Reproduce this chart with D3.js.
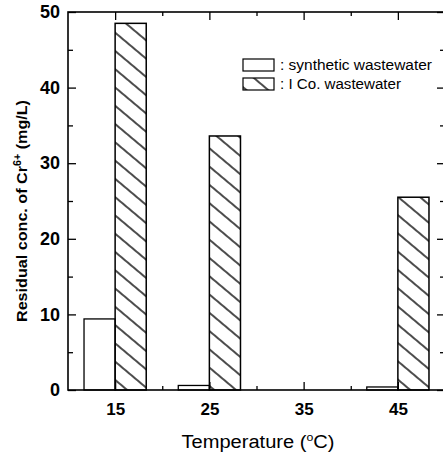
<!DOCTYPE html>
<html>
<head>
<meta charset="utf-8">
<script src="https://cdn.jsdelivr.net/npm/d3@7"></script>
<style>
  body { margin: 0; background: #fff; }
  svg { display: block; font-family: "Liberation Sans", Arial, Helvetica, sans-serif; }
</style>
</head>
<body>
<div class="chart"></div>
<script>
// Data
const temperatures = [15, 25, 35, 45];
const synthetic = [9.4, 0.6, 0, 0.4];
const iCoWaste = [48.5, 33.6, 0, 25.5];
const yTicks = [0, 10, 20, 30, 40, 50];

const width = 443;
const height = 458;
const margin = { top: 12, right: -2, bottom: 68, left: 68 };

const svg = d3.select(".chart")
    .append("svg")
    .attr("width", width)
    .attr("height", height);

// hatch pattern for the I Co. bars
svg.append("defs").append("pattern")
    .attr("id", "hatch")
    .attr("patternUnits", "userSpaceOnUse")
    .attr("width", 14)
    .attr("height", 14)
    .attr("patternTransform", "rotate(40)")
    .append("line")
    .attr("x1", 0).attr("y1", 7)
    .attr("x2", 14).attr("y2", 7)
    .attr("stroke", "#000")
    .attr("stroke-width", 1.4);

const x = d3.scaleLinear()
    .domain([10, 50])
    .range([margin.left, width - margin.right]);

const y = d3.scaleLinear()
    .domain([0, 50])
    .range([height - margin.bottom, margin.top]);

const barW = x(13.3) - x(10);

// Bars
const bars = svg.append("g");
bars.selectAll(".syn")
    .data(temperatures)
    .join("rect")
    .attr("x", (d) => x(d) - barW)
    .attr("y", (d, i) => y(synthetic[i]))
    .attr("width", barW)
    .attr("height", (d, i) => y(0) - y(synthetic[i]))
    .attr("fill", "#fff")
    .attr("stroke", "#000")
    .attr("stroke-width", 1.3);

bars.selectAll(".ico")
    .data(temperatures)
    .join("rect")
    .attr("x", (d) => x(d))
    .attr("y", (d, i) => y(iCoWaste[i]))
    .attr("width", barW)
    .attr("height", (d, i) => y(0) - y(iCoWaste[i]))
    .attr("fill", "url(#hatch)")
    .attr("stroke", "#000")
    .attr("stroke-width", 1.5);

// Axes (ticks pointing inward, frame on all sides)
const yMajor = yTicks;
const yMinor = [5, 15, 25, 35, 45];
const xMinor = [20, 30, 40];

svg.append("g")
    .attr("transform", `translate(${margin.left},0)`)
    .call(d3.axisLeft(y).tickValues(yMajor).tickSize(-8).tickPadding(8).tickFormat(d3.format("d")))
    .call(g => g.select(".domain").remove())
    .call(g => g.selectAll("text").style("font-size", "18px").style("font-weight", "bold"));
svg.append("g")
    .attr("transform", `translate(${margin.left},0)`)
    .call(d3.axisLeft(y).tickValues(yMinor).tickSize(-5).tickFormat(""))
    .call(g => g.select(".domain").remove());

svg.append("g")
    .attr("transform", `translate(${width - margin.right},0)`)
    .call(d3.axisRight(y).tickValues(yMajor).tickSize(-8).tickFormat(""))
    .call(g => g.select(".domain").remove());
svg.append("g")
    .attr("transform", `translate(${width - margin.right},0)`)
    .call(d3.axisRight(y).tickValues(yMinor).tickSize(-5).tickFormat(""))
    .call(g => g.select(".domain").remove());

svg.append("g")
    .attr("transform", `translate(0,${height - margin.bottom})`)
    .call(d3.axisBottom(x).tickValues(temperatures).tickSize(-8).tickPadding(13))
    .call(g => g.select(".domain").remove())
    .call(g => g.selectAll("text").style("font-size", "17px").style("font-weight", "bold"));
svg.append("g")
    .attr("transform", `translate(0,${height - margin.bottom})`)
    .call(d3.axisBottom(x).tickValues(xMinor).tickSize(-4).tickFormat(""))
    .call(g => g.select(".domain").remove());

svg.append("g")
    .attr("transform", `translate(0,${margin.top})`)
    .call(d3.axisTop(x).tickValues(temperatures).tickSize(-8).tickFormat(""))
    .call(g => g.select(".domain").remove());
svg.append("g")
    .attr("transform", `translate(0,${margin.top})`)
    .call(d3.axisTop(x).tickValues(xMinor).tickSize(-4).tickFormat(""))
    .call(g => g.select(".domain").remove());

svg.selectAll(".tick line").attr("stroke-width", 1.3);

// frame
svg.append("rect")
    .attr("x", margin.left)
    .attr("y", margin.top)
    .attr("width", width - margin.right - margin.left)
    .attr("height", height - margin.bottom - margin.top)
    .attr("fill", "none")
    .attr("stroke", "#000")
    .attr("stroke-width", 1.6);

// Axis titles
const xTitle = svg.append("text")
    .attr("x", 258)
    .attr("y", 448)
    .attr("text-anchor", "middle")
    .attr("textLength", 153)
    .attr("lengthAdjust", "spacingAndGlyphs")
    .style("font-size", "18px");
xTitle.append("tspan").text("Temperature (");
xTitle.append("tspan").attr("dy", -7).style("font-size", "11px").text("o");
xTitle.append("tspan").attr("dy", 7).text("C)");

const yTitle = svg.append("text")
    .attr("transform", "translate(27,211) rotate(-90)")
    .attr("text-anchor", "middle")
    .attr("textLength", 222)
    .attr("lengthAdjust", "spacingAndGlyphs")
    .style("font-size", "15px")
    .style("font-weight", "bold");
yTitle.append("tspan").text("Residual conc.  of Cr");
yTitle.append("tspan").attr("dy", -6).style("font-size", "10px").text("6+");
yTitle.append("tspan").attr("dy", 6).text(" (mg/L)");

// Legend
const legendItems = [
    { label: ": synthetic wastewater", fill: "#fff", len: 152 },
    { label: ": I Co. wastewater", fill: "url(#hatch)", len: 121 }
];
const legend = svg.append("g")
    .selectAll("g")
    .data(legendItems)
    .join("g")
    .attr("transform", (d, i) => `translate(243,${59 + i * 19})`);

legend.append("rect")
    .attr("width", 31)
    .attr("height", 12)
    .attr("fill", d => d.fill)
    .attr("stroke", "#000")
    .attr("stroke-width", 1.2);

legend.append("text")
    .attr("x", 37)
    .attr("y", 10.5)
    .attr("textLength", d => d.len)
    .attr("lengthAdjust", "spacingAndGlyphs")
    .style("font-size", "14px")
    .text(d => d.label);
</script>
</body>
</html>
